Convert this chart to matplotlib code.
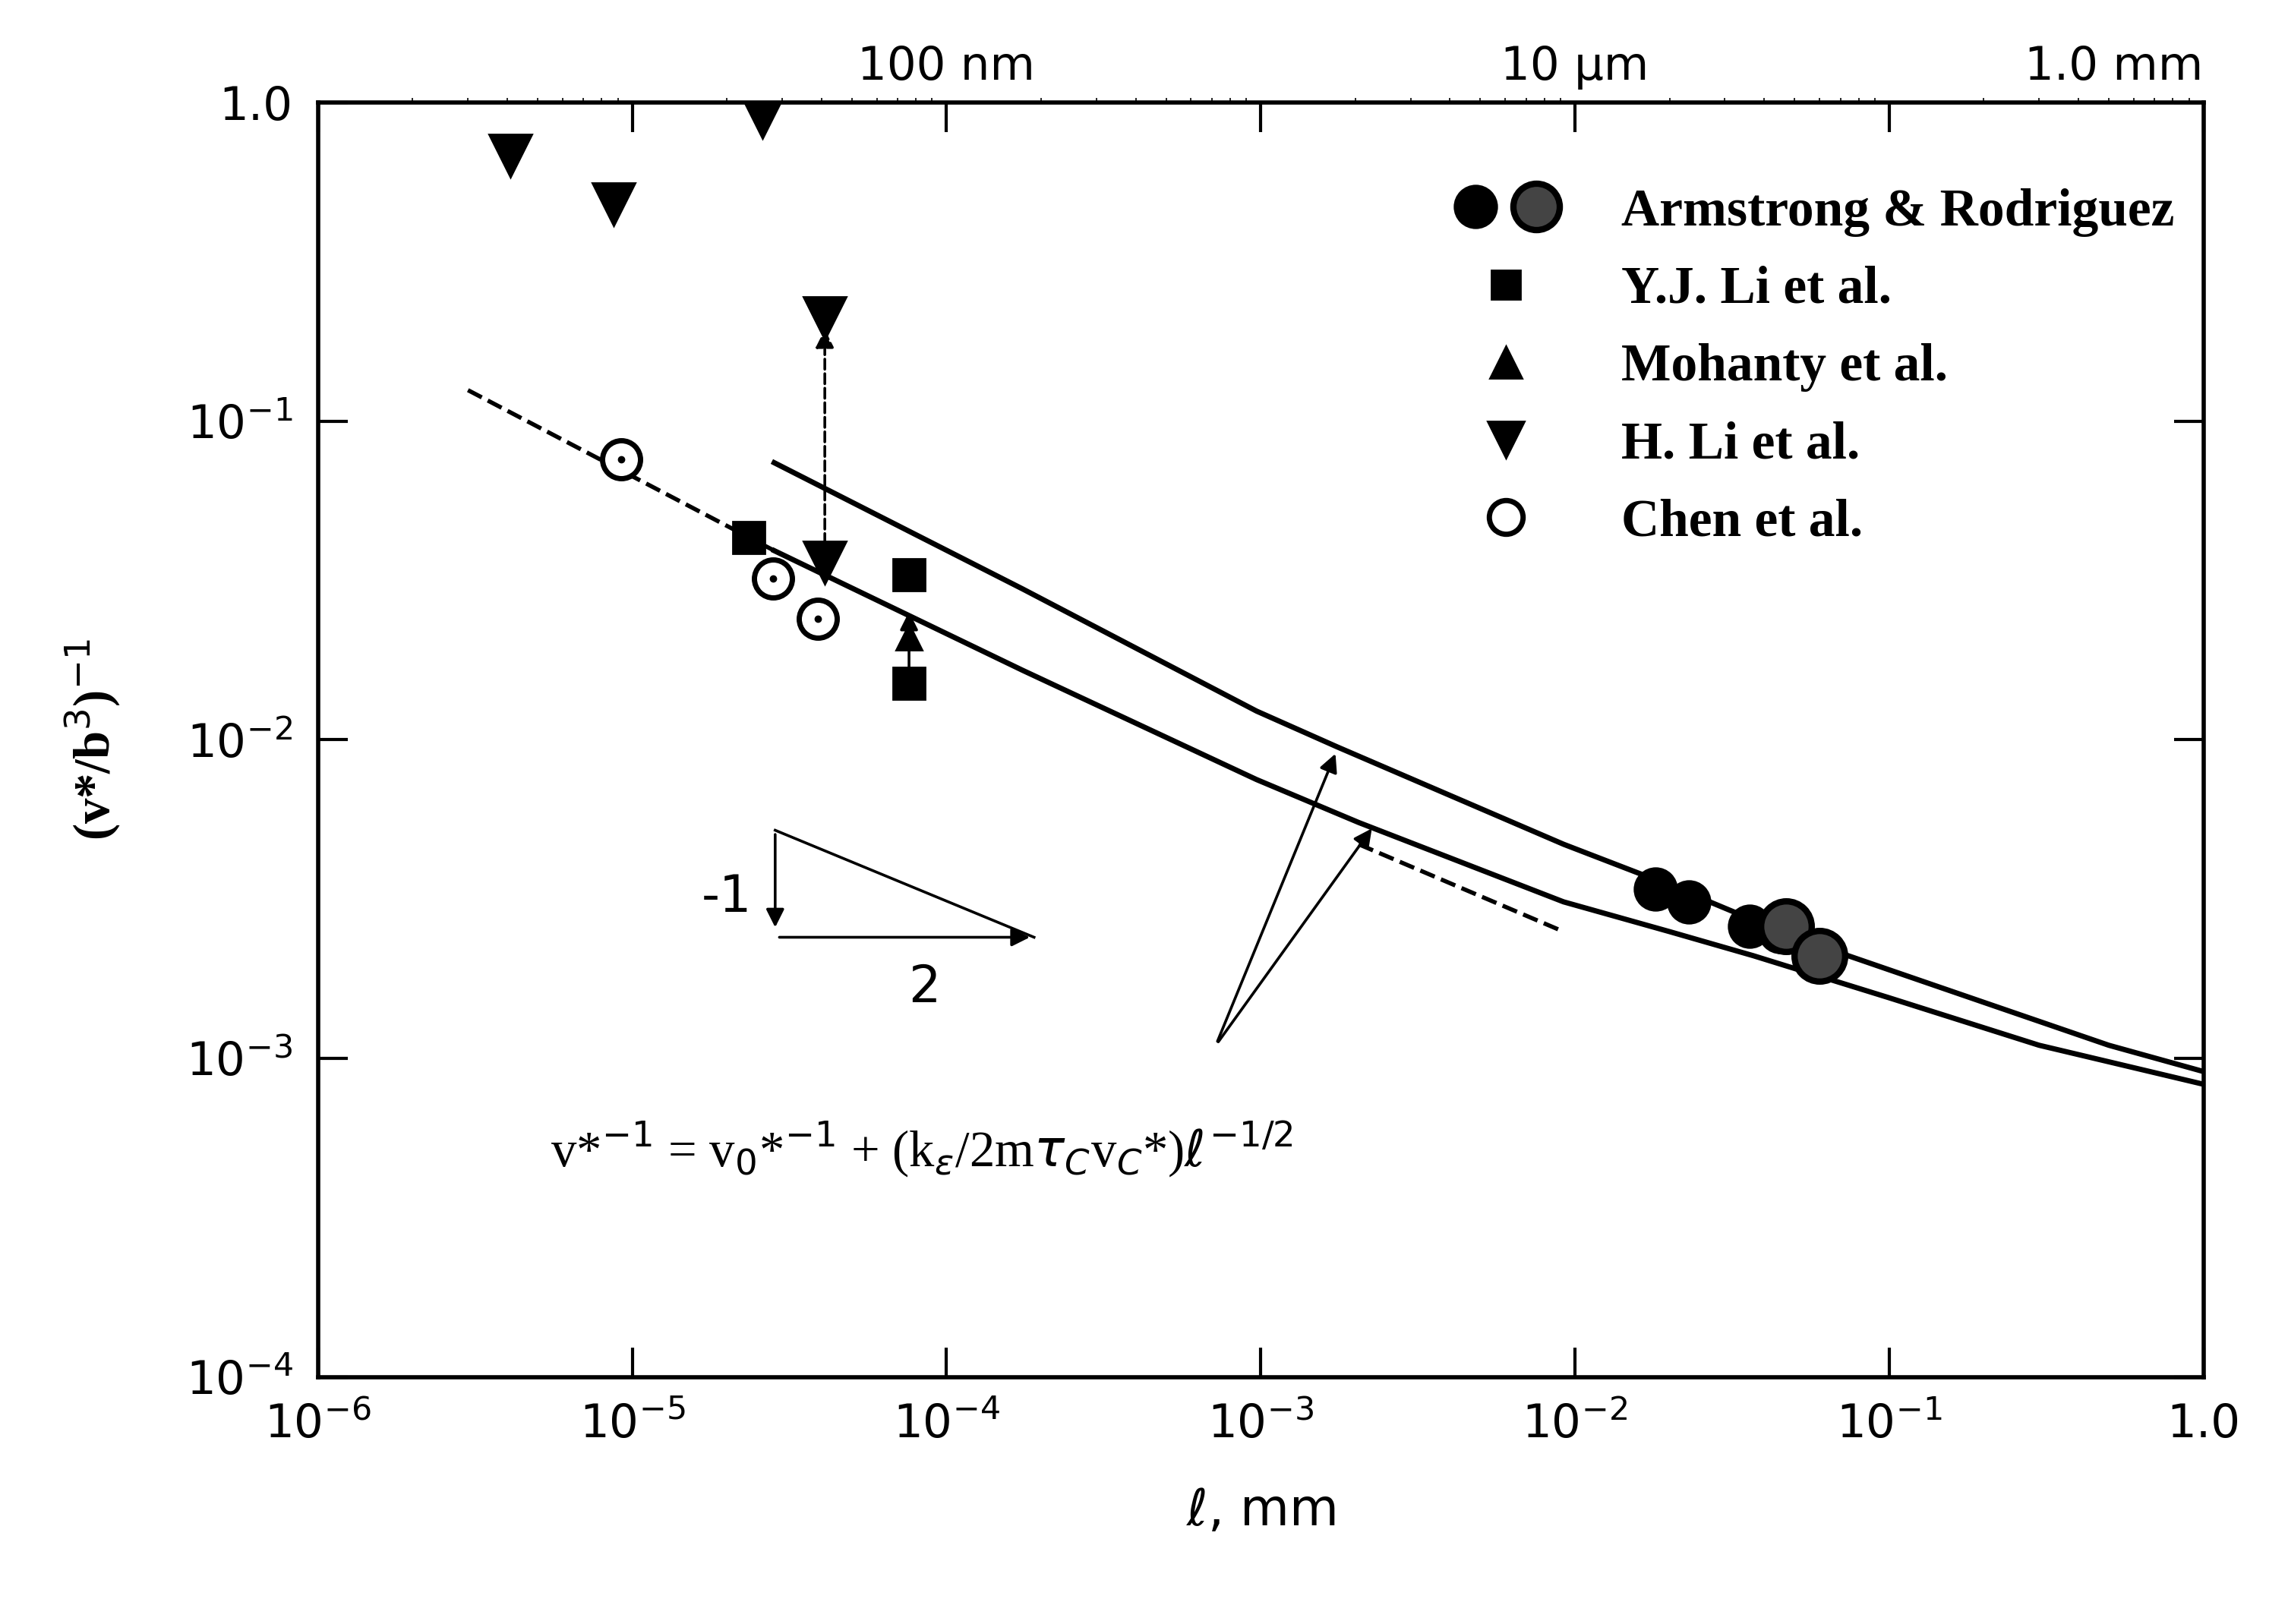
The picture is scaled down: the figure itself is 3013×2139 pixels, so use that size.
import matplotlib
matplotlib.use("Agg")
import matplotlib.pyplot as plt
from matplotlib.lines import Line2D
from matplotlib.legend_handler import HandlerTuple

# data (x in mm)
hli_x = [4.1e-6, 8.7e-6, 2.6e-5, 4.1e-5, 4.1e-5]
hli_y = [0.68, 0.48, 0.9, 0.21, 0.036]
yjli_x = [2.35e-5, 7.6e-5, 7.6e-5]
yjli_y = [0.043, 0.033, 0.015]
moh_x = [7.6e-5]
moh_y = [0.021]
chen_x = [9.2e-6, 2.8e-5, 3.9e-5]
chen_y = [0.076, 0.032, 0.024]
arm_x = [0.018, 0.023, 0.036, 0.045]
arm_y = [0.0034, 0.0031, 0.0026, 0.0025]
arm_open_x = [0.047, 0.060]
arm_open_y = [0.0026, 0.0021]

lower_x = [2.83e-5, 1.75e-4, 9.7e-4, 2.05e-3, 9.2e-3, 0.02, 0.037, 0.1, 0.3, 1.0]
lower_y = [0.0392, 0.0165, 0.0075, 0.0055, 0.0031, 0.0025, 0.0021, 0.00155, 0.0011, 8.3e-4]
upper_x = [2.83e-5, 1.75e-4, 9.7e-4, 1.75e-3, 9.2e-3, 0.02, 0.05, 0.2, 0.5, 1.0]
upper_y = [0.074, 0.0297, 0.0123, 0.0095, 0.0047, 0.0035, 0.0024, 0.0015, 0.0011, 9.1e-4]
dash1_x = [3.0e-6, 2.83e-5]
dash1_y = [0.125, 0.0392]
dash2_x = [2.05e-3, 9.2e-3]
dash2_y = [0.0047, 0.0025]

top_ticks = [1e-4, 1e-2, 1.0]
top_labels = ["100 nm", "10 µm", "1.0 mm"]

fig = plt.figure(figsize=(15.065, 10.695), dpi=200)
ax = fig.add_axes([0.139, 0.152, 0.824, 0.785])
ax.set_xscale("log")
ax.set_yscale("log")
ax.set_xlim(1e-6, 1.0)
ax.set_ylim(1e-4, 1.0)

k = dict(color="black")
ax.plot(lower_x, lower_y, lw=2.5, **k)
ax.plot(upper_x, upper_y, lw=2.5, **k)
ax.plot(dash1_x, dash1_y, ls="--", lw=2, **k)
ax.plot(dash2_x, dash2_y, ls="--", lw=2, **k)

ax.plot(hli_x, hli_y, "v", ms=20, **k, ls="none")
ax.plot(yjli_x, yjli_y, "s", ms=15, **k, ls="none")
ax.plot(moh_x, moh_y, "^", ms=12, **k, ls="none")
ax.plot(chen_x, chen_y, "o", ms=18, mfc="white", mec="black", mew=2.5, ls="none")
ax.plot(chen_x, chen_y, ".", ms=5, **k, ls="none")
ax.plot(arm_x, arm_y, "o", ms=20, **k, ls="none")
ax.plot(arm_open_x, arm_open_y, "o", ms=24, mfc="#444444", mec="black", mew=3, ls="none")

# arrows
ap = dict(arrowstyle="-|>", color="black", lw=1.3, mutation_scale=18)
ax.annotate("", xy=(4.1e-5, 0.2), xytext=(4.1e-5, 0.04),
            arrowprops=dict(ap, linestyle="--"))
ax.annotate("", xy=(7.6e-5, 0.026), xytext=(7.6e-5, 0.016), arrowprops=ap)
ax.annotate("", xy=(1.75e-3, 0.0093), xytext=(7.2e-4, 0.0011), arrowprops=ap)
ax.annotate("", xy=(2.3e-3, 0.0054), xytext=(7.2e-4, 0.0011), arrowprops=ap)

# slope triangle
ax.annotate("", xy=(2.85e-5, 0.0025), xytext=(2.85e-5, 0.0052), arrowprops=ap)
ax.annotate("", xy=(1.9e-4, 0.0024), xytext=(2.85e-5, 0.0024), arrowprops=ap)
ax.plot([2.85e-5, 1.9e-4], [0.0052, 0.0024], lw=1.3, **k)
ax.text(2.4e-5, 0.0032, "-1", fontsize=24, ha="right", va="center")
ax.text(8.5e-5, 0.0020, "2", fontsize=24, ha="center", va="top")

ax.text(5.5e-6, 5.2e-4,
        r"v*$^{-1}$ = v$_0$*$^{-1}$ + (k$_\epsilon$/2m$\tau_C$v$_C$*)$\ell^{-1/2}$",
        fontsize=24, family="Liberation Serif", va="center")

ax.tick_params(which="major", direction="in", length=14, width=1.5,
               top=True, right=True, labelsize=22, pad=12)
ax.tick_params(which="minor", length=0)
ax.set_xticks([1e-6, 1e-5, 1e-4, 1e-3, 1e-2, 1e-1, 1.0])
ax.set_xticklabels([r"10$^{-6}$", r"10$^{-5}$", r"10$^{-4}$", r"10$^{-3}$",
                    r"10$^{-2}$", r"10$^{-1}$", "1.0"])
ax.set_yticks([1e-4, 1e-3, 1e-2, 1e-1, 1.0])
ax.set_yticklabels([r"10$^{-4}$", r"10$^{-3}$", r"10$^{-2}$", r"10$^{-1}$", "1.0"])
for s in ax.spines.values():
    s.set_linewidth(2)

top = ax.secondary_xaxis("top")
top.set_xticks(top_ticks)
top.set_xticklabels(top_labels)
top.tick_params(length=0, labelsize=22, pad=6)
top.get_xticklabels()[-1].set_horizontalalignment("right")
top.get_xticklabels()[-1].set_x(1.0)

ax.set_xlabel(r"$\ell$, mm", fontsize=24, labelpad=18)
ax.set_ylabel(r"(v*/b$^3$)$^{-1}$", fontsize=24, family="Liberation Serif",
              fontweight="bold", labelpad=30)

handles = [
    (Line2D([], [], marker="o", ms=20, color="black", ls="none"),
     Line2D([], [], marker="o", ms=22, mfc="#444444", mec="black", mew=3, ls="none")),
    Line2D([], [], marker="s", ms=14, color="black", ls="none"),
    Line2D([], [], marker="^", ms=15, color="black", ls="none"),
    Line2D([], [], marker="v", ms=17, color="black", ls="none"),
    Line2D([], [], marker="o", ms=16, mfc="white", mec="black", mew=2.5, ls="none"),
]
labels = ["Armstrong & Rodriguez", "Y.J. Li et al.", "Mohanty et al.",
          "H. Li et al.", "Chen et al."]
ax.legend(handles, labels, loc="upper right", bbox_to_anchor=(1.01, 0.97),
          frameon=False, handler_map={tuple: HandlerTuple(ndivide=None, pad=0.3)},
          prop={"family": "Liberation Serif", "weight": "bold", "size": 25},
          labelspacing=0.55, handletextpad=1.2)

fig.savefig("out.png")
